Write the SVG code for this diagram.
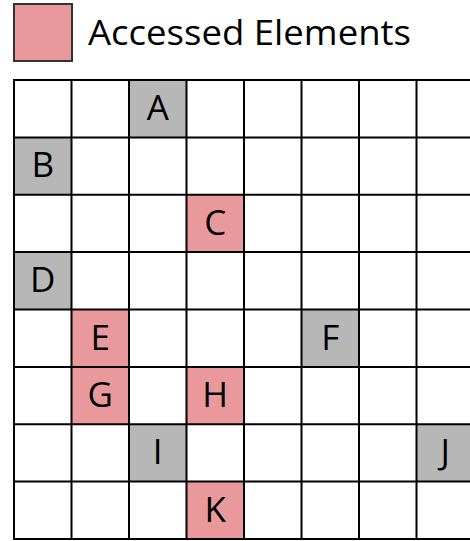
<svg xmlns="http://www.w3.org/2000/svg" width="470" height="541" viewBox="0 0 470 541">
<style>
  .lbl { font-family: "Open Sans", "Liberation Sans", sans-serif; font-size: 35px; fill: #000; }
  .cell { text-anchor: middle; }
  .gray { fill: #b7b7b7; }
  .pink { fill: #e9999b; }
  .grid line { stroke: #000; stroke-width: 2; }
</style>
<rect x="0" y="0" width="470" height="541" fill="#fff"/>
<g id="legend">
  <rect x="14" y="4" width="58" height="57" class="pink" stroke="#333" stroke-width="2"/>
  <text class="lbl" x="88" y="45" textLength="323" lengthAdjust="spacingAndGlyphs">Accessed Elements</text>
</g>
<g id="A"><rect class="gray" x="129" y="80" width="57.5" height="57.4"/><text class="lbl cell" x="157.75" y="119.5">A</text></g>
<g id="B"><rect class="gray" x="14" y="137.4" width="57.5" height="57.4"/><text class="lbl cell" x="42.75" y="177">B</text></g>
<g id="C"><rect class="pink" x="186.5" y="194.75" width="57.5" height="57.4"/><text class="lbl cell" x="215.25" y="234.5">C</text></g>
<g id="D"><rect class="gray" x="14" y="252.1" width="57.5" height="57.4"/><text class="lbl cell" x="42.75" y="292">D</text></g>
<g id="E"><rect class="pink" x="71.5" y="309.5" width="57.5" height="57.4"/><text class="lbl cell" x="100.25" y="349.5">E</text></g>
<g id="F"><rect class="gray" x="301.5" y="309.5" width="57.5" height="57.4"/><text class="lbl cell" x="330.25" y="349.5">F</text></g>
<g id="G"><rect class="pink" x="71.5" y="366.9" width="57.5" height="57.4"/><text class="lbl cell" x="100.25" y="407">G</text></g>
<g id="H"><rect class="pink" x="186.5" y="366.9" width="57.5" height="57.4"/><text class="lbl cell" x="215.25" y="407">H</text></g>
<g id="I"><rect class="gray" x="129" y="424.25" width="57.5" height="57.4"/><text class="lbl cell" x="157.75" y="464">I</text></g>
<g id="J"><rect class="gray" x="416.5" y="424.25" width="57.5" height="57.4"/><text class="lbl cell" x="445.25" y="464">J</text></g>
<g id="K"><rect class="pink" x="186.5" y="481.6" width="57.5" height="57.4"/><text class="lbl cell" x="215.25" y="521.5">K</text></g>
<g id="grid" class="grid">
  <line x1="14" y1="80" x2="14" y2="540"/>
  <line x1="71.5" y1="80" x2="71.5" y2="540"/>
  <line x1="129" y1="80" x2="129" y2="540"/>
  <line x1="186.5" y1="80" x2="186.5" y2="540"/>
  <line x1="244" y1="80" x2="244" y2="540"/>
  <line x1="301.5" y1="80" x2="301.5" y2="540"/>
  <line x1="359" y1="80" x2="359" y2="540"/>
  <line x1="416.5" y1="80" x2="416.5" y2="540"/>
  <line x1="13" y1="80" x2="470" y2="80"/>
  <line x1="13" y1="137.4" x2="470" y2="137.4"/>
  <line x1="13" y1="194.75" x2="470" y2="194.75"/>
  <line x1="13" y1="252.1" x2="470" y2="252.1"/>
  <line x1="13" y1="309.5" x2="470" y2="309.5"/>
  <line x1="13" y1="366.9" x2="470" y2="366.9"/>
  <line x1="13" y1="424.25" x2="470" y2="424.25"/>
  <line x1="13" y1="481.6" x2="470" y2="481.6"/>
  <line x1="13" y1="539" x2="470" y2="539"/>
</g>
</svg>
